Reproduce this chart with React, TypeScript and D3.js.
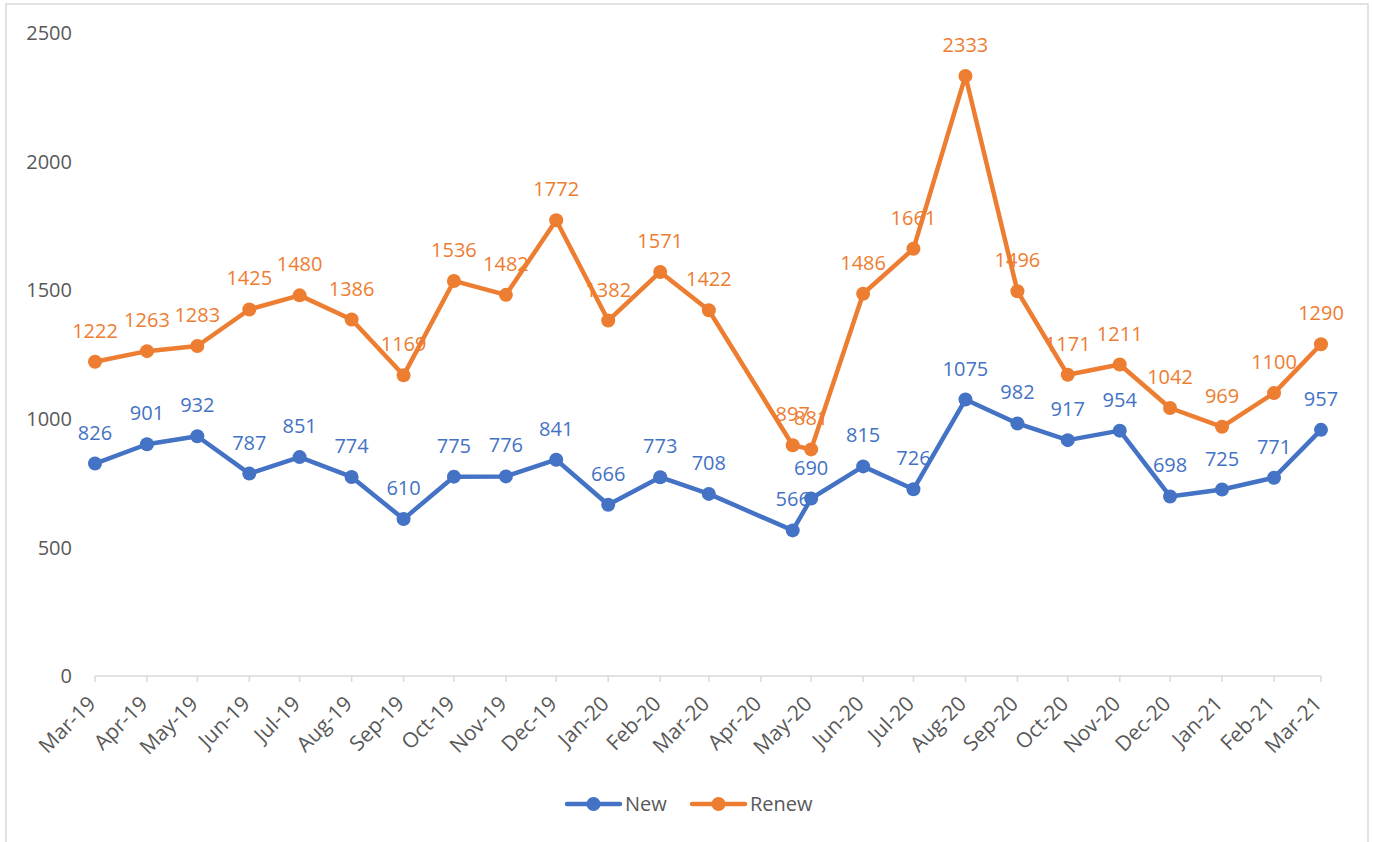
import React from "react";
import * as d3 from "d3";

const dates: string[] = [
  "2019-03-01","2019-04-01","2019-05-01","2019-06-01","2019-07-01","2019-08-01","2019-09-01",
  "2019-10-01","2019-11-01","2019-12-01","2020-01-01","2020-02-01","2020-03-01","2020-04-20",
  "2020-05-01","2020-06-01","2020-07-01","2020-08-01","2020-09-01","2020-10-01","2020-11-01",
  "2020-12-01","2021-01-01","2021-02-01","2021-03-01",
];
const newValues: number[] = [826, 901, 932, 787, 851, 774, 610, 775, 776, 841, 666, 773, 708, 566, 690, 815, 726, 1075, 982, 917, 954, 698, 725, 771, 957];
const renewValues: number[] = [1222, 1263, 1283, 1425, 1480, 1386, 1169, 1536, 1482, 1772, 1382, 1571, 1422, 897, 881, 1486, 1661, 2333, 1496, 1171, 1211, 1042, 969, 1100, 1290];
const yTicks: number[] = [0, 500, 1000, 1500, 2000, 2500];
const seriesNames: string[] = ["New", "Renew"];

const W = 1374, H = 842;
const BLUE = "#4472C4", ORANGE = "#ED7D31", GRAY = "#595959";
const FONT = "'Open Sans', 'Noto Sans', sans-serif";

export default function App() {
  const parse = d3.timeParse("%Y-%m-%d");
  const ds = dates.map((d) => parse(d) as Date);
  const x = d3.scaleTime().domain([ds[0], ds[ds.length - 1]]).range([95, 1321]);
  const y = d3.scaleLinear().domain([0, 2500]).range([676, 33]);
  const monthTicks = d3.timeMonth.range(ds[0], d3.timeDay.offset(ds[ds.length - 1], 1));
  const fmt = d3.timeFormat("%b-%y");
  const line = d3.line<number>().x((_, i) => x(ds[i])).y((v) => y(v));
  const series = [
    { name: seriesNames[0], vals: newValues, color: BLUE },
    { name: seriesNames[1], vals: renewValues, color: ORANGE },
  ];
  const legendItems = [
    { name: seriesNames[0], color: BLUE, x0: 567, x1: 620, tx: 625 },
    { name: seriesNames[1], color: ORANGE, x0: 692, x1: 745, tx: 750 },
  ];
  return (
    <svg width={W} height={H} style={{ position: "absolute", left: 0, top: 0, background: "#fff" }} fontFamily={FONT}>
      <rect x={6} y={4} width={1362} height={845} fill="#fff" stroke="#d9d9d9" strokeWidth={1.5} />
      {/* x axis */}
      <line x1={x(ds[0])} x2={x(ds[ds.length - 1])} y1={676} y2={676} stroke="#d9d9d9" strokeWidth={1.5} />
      {monthTicks.map((t, i) => (
        <g key={i}>
          <line x1={x(t)} x2={x(t)} y1={676} y2={682} stroke="#d9d9d9" strokeWidth={1.5} />
          <text transform={`translate(${x(t) + 2},${705}) rotate(-45)`} textAnchor="end" fontSize={21} fill={GRAY}>
            {fmt(t)}
          </text>
        </g>
      ))}
      {/* y labels */}
      {yTicks.map((t) => (
        <text key={t} x={72} y={y(t)} dy="0.36em" textAnchor="end" fontSize={20} fill={GRAY}>
          {t}
        </text>
      ))}
      {series.map((s) => (
        <g key={s.name}>
          <path d={line(s.vals) || ""} fill="none" stroke={s.color} strokeWidth={4.5} strokeLinejoin="round" />
          {s.vals.map((v, i) => (
            <circle key={i} cx={x(ds[i])} cy={y(v)} r={7} fill={s.color} />
          ))}
        </g>
      ))}
      {series.map((s) => (
        <g key={s.name + "lbl"}>
          {s.vals.map((v, i) => (
            <text key={i} x={x(ds[i])} y={y(v) - 24} textAnchor="middle" fontSize={20} fill={s.color}>
              {v}
            </text>
          ))}
        </g>
      ))}
      {/* legend */}
      {legendItems.map((l) => (
        <g key={l.name}>
          <line x1={l.x0} x2={l.x1} y1={804} y2={804} stroke={l.color} strokeWidth={4.5} strokeLinecap="round" />
          <circle cx={(l.x0 + l.x1) / 2} cy={804} r={7} fill={l.color} />
          <text x={l.tx} y={804} dy="0.36em" fontSize={20} fill={GRAY}>
            {l.name}
          </text>
        </g>
      ))}
    </svg>
  );
}
